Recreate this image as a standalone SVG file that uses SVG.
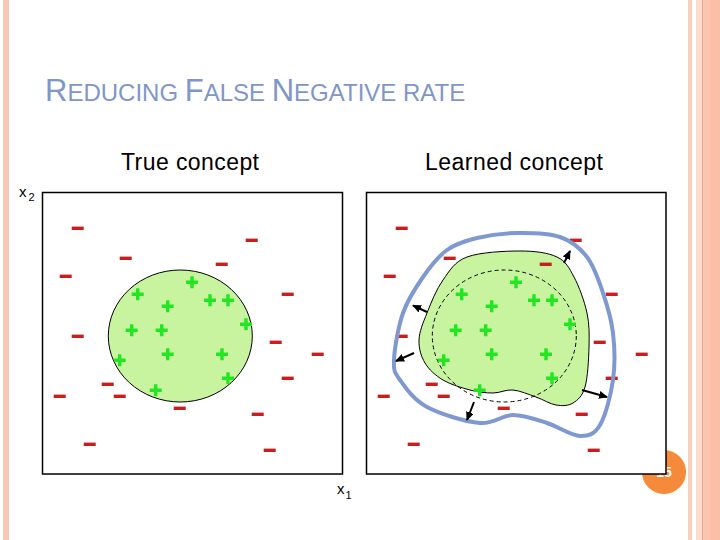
<svg xmlns="http://www.w3.org/2000/svg" xmlns:xlink="http://www.w3.org/1999/xlink" width="720" height="540" viewBox="0 0 720 540">
<style>
.title{font-family:"Liberation Sans",Arial,sans-serif;fill:#7f96c8;font-size:24px}
.lbl{font-family:"Liberation Sans",Arial,sans-serif;fill:#000;font-size:23px}
.ax{font-family:"Liberation Sans",Arial,sans-serif;fill:#000;font-size:15px}
.sub{font-size:11px}
.box{fill:#fff;stroke:#000;stroke-width:1.5}
.concept{fill:#c8f4a0;stroke:#000;stroke-width:1}
.dash{fill:none;stroke:#000;stroke-width:1;stroke-dasharray:4 3}
.blue{fill:none;stroke:#7f99d0;stroke-width:4}
.arr{stroke:#000;stroke-width:2;fill:none;marker-end:url(#ah)}
</style>
<defs>
<marker id="ah" markerUnits="userSpaceOnUse" markerWidth="9" markerHeight="8" refX="8" refY="4" orient="auto">
<path d="M0,0 L9,4 L0,8 z" fill="#000"/>
</marker>
<path id="p" d="M-6,0H6M0,-6V6" stroke="#22e622" stroke-width="3.4" fill="none"/>
<path id="m" d="M-6,0H6" stroke="#c81e1e" stroke-width="3.4" fill="none"/>
</defs>
<rect width="720" height="540" fill="#fff"/>
<g id="frame">
<rect x="3" y="0" width="6" height="540" fill="#f9c8b5"/>
<rect x="688" y="0" width="4" height="540" fill="#f9cfbf"/>
<rect x="696" y="0" width="6" height="540" fill="#fcdccd"/>
<rect x="702" y="0" width="1.5" height="540" fill="#f3a27f"/>
<rect x="703.5" y="0" width="6.5" height="540" fill="#fbc6b1"/>
<rect x="710" y="0" width="10" height="540" fill="#fbbfa8"/>
</g>
<g id="title"><text class="title" x="45" y="101"><tspan font-size="31">R</tspan>EDUCING <tspan font-size="31">F</tspan>ALSE <tspan font-size="31">N</tspan>EGATIVE RATE</text></g>
<g id="labels">
<text class="lbl" x="121" y="170" textLength="138" lengthAdjust="spacing">True concept</text>
<text class="lbl" x="425" y="170" textLength="178" lengthAdjust="spacing">Learned concept</text>
<text class="ax" x="19" y="197">x<tspan class="sub" dx="2" dy="4">2</tspan></text>
<text class="ax" x="337" y="493.5">x<tspan class="sub" dx="1" dy="5">1</tspan></text>
</g>
<g id="pagenum">
<circle cx="664" cy="472" r="22" fill="#f58a3b"/>
<text x="664" y="477" text-anchor="middle" font-family="Liberation Sans,Arial,sans-serif" font-weight="bold" font-size="14" fill="#fff">15</text>
</g>
<g id="true-concept-panel">
<rect class="box" x="42.5" y="192.5" width="300" height="281.5"/>
<ellipse class="concept" cx="180.3" cy="336" rx="72" ry="66"/>
<g id="left-neg">
<use href="#m" x="77.7" y="228.3"/><use href="#m" x="251.7" y="240.3"/><use href="#m" x="125.7" y="258.3"/>
<use href="#m" x="221.7" y="264.3"/><use href="#m" x="65.7" y="276.3"/><use href="#m" x="287.7" y="294.3"/>
<use href="#m" x="77.7" y="336.3"/><use href="#m" x="275.7" y="342.3"/><use href="#m" x="317.7" y="354.3"/>
<use href="#m" x="287.7" y="378.3"/><use href="#m" x="107.7" y="384.3"/><use href="#m" x="59.7" y="396.3"/>
<use href="#m" x="119.7" y="396.3"/><use href="#m" x="179.7" y="408.3"/><use href="#m" x="257.7" y="414.3"/>
<use href="#m" x="89.7" y="444.3"/><use href="#m" x="269.7" y="450.3"/>
</g>
<g id="left-pos">
<use href="#p" x="192" y="282.3"/><use href="#p" x="137.7" y="294.3"/><use href="#p" x="167.7" y="306.3"/>
<use href="#p" x="210" y="300.3"/><use href="#p" x="228" y="300.3"/><use href="#p" x="246" y="324.3"/>
<use href="#p" x="131.7" y="330.3"/><use href="#p" x="161.7" y="330.3"/><use href="#p" x="167.7" y="354.3"/>
<use href="#p" x="222" y="354.3"/><use href="#p" x="119.7" y="360.3"/><use href="#p" x="228" y="378.3"/>
<use href="#p" x="155.7" y="390.3"/>
</g>
</g>
<g id="learned-concept-panel">
<rect class="box" x="366.5" y="192.5" width="299.5" height="281.5"/>
<path class="concept" d="M520,251 C535,251 548,252.7 557,257 C566,261.3 569,267.7 574,277 C579,286.3 584.5,301.3 587,313 C589.5,324.7 589.3,334.7 589,347 C588.7,359.3 587.7,377.7 585,387 C582.3,396.3 577.8,400 573,403 C568.2,406 562.2,406 556,405 C549.8,404 543.2,399.5 536,397 C528.8,394.5 520.2,390.7 513,390 C505.8,389.3 500.2,393 493,393 C485.8,393 478.3,392.2 470,390 C461.7,387.8 450.5,384.5 443,380 C435.5,375.5 429,369.7 425,363 C421,356.3 418.7,348.3 419,340 C419.3,331.7 423,323 427,313 C431,303 436.3,289.3 443,280 C449.7,270.7 454.2,261.8 467,257 C479.8,252.2 505,251 520,251 Z"/>
<ellipse class="dash" cx="504.3" cy="336" rx="72" ry="66"/>
<g id="right-neg">
<use href="#m" x="401.7" y="228.3"/><use href="#m" x="575.7" y="240.3"/><use href="#m" x="449.7" y="258.3"/>
<use href="#m" x="545.7" y="264.3"/><use href="#m" x="389.7" y="276.3"/><use href="#m" x="611.7" y="294.3"/>
<use href="#m" x="401.7" y="336.3"/><use href="#m" x="599.7" y="342.3"/><use href="#m" x="641.7" y="354.3"/>
<use href="#m" x="611.7" y="378.3"/><use href="#m" x="431.7" y="384.3"/><use href="#m" x="383.7" y="396.3"/>
<use href="#m" x="443.7" y="396.3"/><use href="#m" x="503.7" y="408.3"/><use href="#m" x="581.7" y="414.3"/>
<use href="#m" x="413.7" y="444.3"/><use href="#m" x="593.7" y="450.3"/>
</g>
<g id="right-pos">
<use href="#p" x="516" y="282.3"/><use href="#p" x="461.7" y="294.3"/><use href="#p" x="491.7" y="306.3"/>
<use href="#p" x="534" y="300.3"/><use href="#p" x="552" y="300.3"/><use href="#p" x="570" y="324.3"/>
<use href="#p" x="455.7" y="330.3"/><use href="#p" x="485.7" y="330.3"/><use href="#p" x="491.7" y="354.3"/>
<use href="#p" x="546" y="354.3"/><use href="#p" x="443.7" y="360.3"/><use href="#p" x="552" y="378.3"/>
<use href="#p" x="479.7" y="390.3"/>
</g>
<path class="blue" d="M517,233 C530.8,232.8 548.3,233 560,237 C571.7,241 579.8,247.7 587,257 C594.2,266.3 598.7,280.3 603,293 C607.3,305.7 611.3,318.5 613,333 C614.7,347.5 615.2,364.7 613,380 C610.8,395.3 605.5,415.7 600,425 C594.5,434.3 588.8,436.3 580,436 C571.2,435.7 558.2,426.5 547,423 C535.8,419.5 524.2,415 513,415 C501.8,415 494.3,424.3 480,423 C465.7,421.7 440.3,414.2 427,407 C413.7,399.8 405.5,387.8 400,380 C394.5,372.2 393.5,371.2 394,360 C394.5,348.8 398.2,326.8 403,313 C407.8,299.2 415.7,287.5 423,277 C430.3,266.5 438,256.5 447,250 C456,243.5 465.3,240.8 477,238 C488.7,235.2 503.2,233.2 517,233 Z"/>
</g>
<g id="connectors">
<line class="arr" x1="564" y1="263" x2="570" y2="251"/>
<line class="arr" x1="427" y1="312" x2="413" y2="305.5"/>
<line class="arr" x1="414" y1="353" x2="396" y2="361"/>
<line class="arr" x1="474" y1="402" x2="467" y2="420"/>
<line class="arr" x1="582" y1="390" x2="607" y2="397"/>
</g>
</svg>
